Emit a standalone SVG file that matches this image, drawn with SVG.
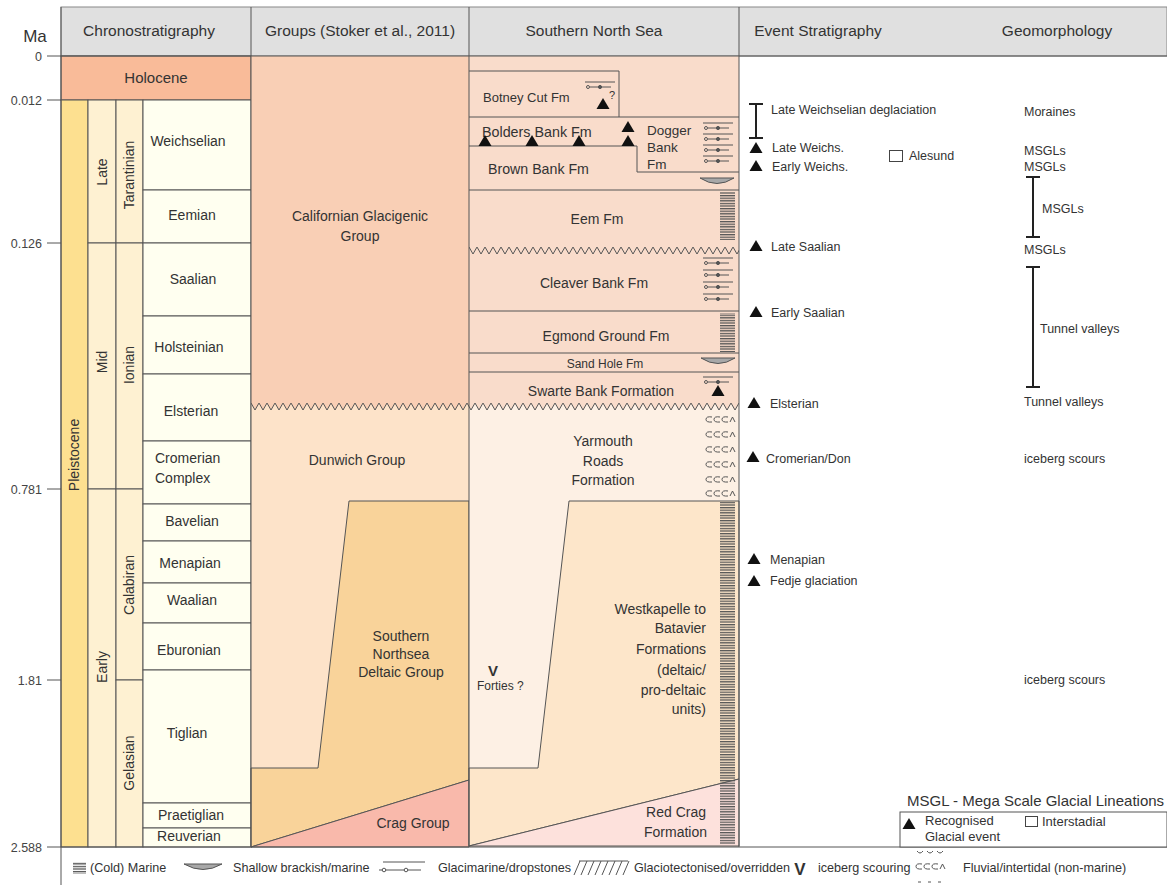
<svg xmlns="http://www.w3.org/2000/svg" width="1167" height="888" viewBox="0 0 1167 888">
<style>
text{font-family:"Liberation Sans",Arial,Helvetica,sans-serif;fill:#333}
.hd{font-size:15.5px;text-anchor:middle}
.st{font-size:14px;text-anchor:middle}
.lb{font-size:14px}
.mid{text-anchor:middle}
.end{text-anchor:end}
.ev{font-size:12.5px}
.lg{font-size:12.6px}
.ma{font-size:12.5px;text-anchor:end;fill:#444}
.ln{stroke:#555;stroke-width:1;fill:none}
.bx{stroke:#555;stroke-width:1}
.tri{fill:#111}
.bar{stroke:#222;stroke-width:2;fill:none}
.sym{stroke:#555;stroke-width:1;fill:none}
</style>
<defs>
  <!-- horizontal ruling used for marine units -->
  <pattern id="hatch" patternUnits="userSpaceOnUse" width="16" height="2.6">
    <rect width="16" height="1.3" fill="#555"/>
  </pattern>
  <!-- unconformity zigzags: upper fill / lower fill / line -->
  <pattern id="zzG" patternUnits="userSpaceOnUse" x="251" y="401" width="8" height="11">
    <rect width="8" height="11" fill="#fde3c9"/>
    <polygon points="0,0 8,0 8,2 4,9 0,2" fill="#f9cfb5"/>
    <polyline points="0,2 4,9 8,2" fill="none" stroke="#555"/>
  </pattern>
  <pattern id="zzS" patternUnits="userSpaceOnUse" x="251" y="401" width="8" height="11">
    <rect width="8" height="11" fill="#fdf0e4"/>
    <polygon points="0,0 8,0 8,2 4,9 0,2" fill="#f9dccb"/>
    <polyline points="0,2 4,9 8,2" fill="none" stroke="#555"/>
  </pattern>
  <pattern id="zzE" patternUnits="userSpaceOnUse" x="469" y="245" width="8" height="11">
    <rect width="8" height="11" fill="#f9dccb"/>
    <polyline points="0,2 4,9 8,2" fill="none" stroke="#555"/>
  </pattern>
  <path id="tri" d="M0,-6 L6.5,5 L-6.5,5 Z" class="tri"/>
  <!-- glacimarine / dropstone sign -->
  <g id="gm" class="sym">
    <line x1="3" y1="0" x2="33" y2="0"/>
    <circle cx="6" cy="5" r="1.5"/>
    <line x1="8" y1="5" x2="29" y2="5"/>
    <circle cx="18" cy="5" r="1.6" fill="#555"/>
  </g>
  <!-- shallow brackish lens -->
  <path id="lens" d="M0,0 H34 Q17,11 0,0 Z" fill="#a8a8a8" stroke="#555"/>
  <!-- fluvial sign: a row of small open curls -->
  <path id="fl" class="sym" d="M6,1 q-6,-1 -6,2.5 q0,3 6,2.5 M14,1 q-6,-1 -6,2.5 q0,3 6,2.5 M22,1 q-6,-1 -6,2.5 q0,3 6,2.5 M24,6 l2.5,-5 l2.5,5"/>
</defs>

<rect width="1167" height="888" fill="#fff"/>

<!-- column headings -->
<g id="header">
  <rect x="61" y="7" width="1106" height="49" fill="#e0e0e0" stroke="#888"/>
  <text x="35" y="42" class="mid" style="font-size:17px">Ma</text>
  <text x="149" y="36" class="hd">Chronostratigraphy</text>
  <text x="360" y="36" class="hd">Groups (Stoker et al., 2011)</text>
  <text x="594" y="36" class="hd">Southern North Sea</text>
  <text x="818" y="36" class="hd">Event Stratigraphy</text>
  <text x="1057" y="36" class="hd">Geomorphology</text>
</g>

<!-- time axis -->
<g id="time-axis">
  <path class="ln" d="M47,56H61 M47,100H61 M47,243H61 M47,489H61 M47,680H61 M47,847H61"/>
  <text x="42" y="61" class="ma">0</text>
  <text x="42" y="105" class="ma">0.012</text>
  <text x="42" y="248" class="ma">0.126</text>
  <text x="42" y="494" class="ma">0.781</text>
  <text x="42" y="685" class="ma">1.81</text>
  <text x="42" y="852" class="ma">2.588</text>
</g>

<!-- chronostratigraphy -->
<g id="chronostratigraphy">
  <rect x="61" y="56" width="190" height="44" fill="#f9bb99" class="bx"/>
  <text x="156" y="83" style="font-size:15px" class="mid">Holocene</text>

  <rect x="61" y="100" width="27" height="747" fill="#fde090" class="bx"/>
  <g fill="#fef1d2" class="bx">
    <rect x="88" y="100" width="28" height="143"/>
    <rect x="88" y="243" width="28" height="246"/>
    <rect x="88" y="489" width="28" height="358"/>
    <rect x="116" y="100" width="27" height="143"/>
    <rect x="116" y="243" width="27" height="246"/>
    <rect x="116" y="489" width="27" height="191"/>
    <rect x="116" y="680" width="27" height="167"/>
  </g>
  <g fill="#fffff0" class="bx">
    <rect x="143" y="100" width="108" height="90"/>
    <rect x="143" y="190" width="108" height="53"/>
    <rect x="143" y="243" width="108" height="73"/>
    <rect x="143" y="316" width="108" height="58"/>
    <rect x="143" y="374" width="108" height="67"/>
    <rect x="143" y="441" width="108" height="63"/>
    <rect x="143" y="504" width="108" height="37"/>
    <rect x="143" y="541" width="108" height="42"/>
    <rect x="143" y="583" width="108" height="40"/>
    <rect x="143" y="623" width="108" height="47"/>
    <rect x="143" y="670" width="108" height="133"/>
    <rect x="143" y="803" width="108" height="25"/>
    <rect x="143" y="828" width="108" height="19"/>
  </g>
  <g class="lb">
    <text transform="translate(79,455) rotate(-90)" class="mid">Pleistocene</text>
    <text transform="translate(107,172) rotate(-90)" class="mid">Late</text>
    <text transform="translate(134,175) rotate(-90)" class="mid">Tarantinian</text>
    <text transform="translate(107,362) rotate(-90)" class="mid">Mid</text>
    <text transform="translate(134,365) rotate(-90)" class="mid">Ionian</text>
    <text transform="translate(107,667) rotate(-90)" class="mid">Early</text>
    <text transform="translate(134,585) rotate(-90)" class="mid">Calabiran</text>
    <text transform="translate(134,763) rotate(-90)" class="mid">Gelasian</text>
  </g>
  <g class="st">
    <text x="188" y="146">Weichselian</text>
    <text x="192" y="220">Eemian</text>
    <text x="193" y="284">Saalian</text>
    <text x="189" y="352">Holsteinian</text>
    <text x="191" y="416">Elsterian</text>
    <text x="155" y="463" style="text-anchor:start">Cromerian</text>
    <text x="155" y="483" style="text-anchor:start">Complex</text>
    <text x="192" y="526">Bavelian</text>
    <text x="190" y="568">Menapian</text>
    <text x="192" y="605">Waalian</text>
    <text x="189" y="655">Eburonian</text>
    <text x="187" y="738">Tiglian</text>
    <text x="191" y="820">Praetiglian</text>
    <text x="189" y="841">Reuverian</text>
  </g>
</g>

<!-- lithostratigraphic groups -->
<g id="groups">
  <rect x="251" y="56" width="218" height="350" fill="#f9cfb5"/>
  <rect x="251" y="406" width="218" height="441" fill="#fde3c9"/>
  <rect x="251" y="401" width="218" height="11" fill="url(#zzG)"/>
  <g id="californian-glacigenic">
    <text x="360" y="221" class="st">Californian Glacigenic</text>
    <text x="360" y="241" class="st">Group</text>
  </g>
  <g id="dunwich">
    <text x="357" y="465" class="st">Dunwich Group</text>
  </g>
  <g id="southern-northsea-deltaic">
    <polygon points="349,501 469,501 469,780 251,847 251,768 318,768" fill="#f9d39a" class="bx"/>
    <text x="401" y="641" class="st">Southern</text>
    <text x="401" y="659" class="st">Northsea</text>
    <text x="401" y="677" class="st">Deltaic Group</text>
  </g>
  <g id="crag">
    <polygon points="251,847 469,780 469,847" fill="#f9b9ab" class="bx"/>
    <text x="413" y="828" class="st">Crag Group</text>
  </g>
</g>

<!-- Southern North Sea formations -->
<g id="southern-north-sea">
  <rect x="469" y="56" width="270" height="350" fill="#f9dccb"/>
  <rect x="469" y="406" width="270" height="441" fill="#fdf0e4"/>
  <rect x="469" y="401" width="270" height="11" fill="url(#zzS)"/>
  <rect x="469" y="245" width="270" height="11" fill="url(#zzE)"/>
  <polygon points="569,501 739,501 739,779 469,846 469,768 538,768" fill="#fde6ca" class="bx"/>
  <polygon points="469,846 739,779 739,846" fill="#fde1dc" class="bx"/>
  <path class="ln" d="M469,71H619V117 M469,117H739 M469,146H637V172H739 M469,190H739 M469,311H739 M469,353H739 M469,372H739"/>

  <g id="botney-cut">
    <text x="483" y="102" style="font-size:13px">Botney Cut Fm</text>
    <use href="#gm" x="582" y="82"/>
    <use href="#tri" x="603" y="104"/>
    <text x="609" y="99" style="font-size:11px">?</text>
  </g>
  <g id="bolders-bank">
    <text x="482" y="137" style="font-size:14.3px">Bolders Bank Fm</text>
    <use href="#tri" x="485" y="141"/>
    <use href="#tri" x="532" y="141"/>
    <use href="#tri" x="579" y="141"/>
    <use href="#tri" x="628" y="141"/>
    <use href="#tri" x="628" y="127"/>
  </g>
  <g id="dogger-bank">
    <text x="647" y="135" style="font-size:13.5px">Dogger</text>
    <text x="647" y="152" style="font-size:13.5px">Bank</text>
    <text x="647" y="169" style="font-size:13.5px">Fm</text>
    <use href="#gm" x="700" y="123"/>
    <use href="#gm" x="700" y="134"/>
    <use href="#gm" x="700" y="145"/>
    <use href="#gm" x="700" y="156"/>
  </g>
  <g id="brown-bank">
    <text x="488" y="174" style="font-size:14.2px">Brown Bank Fm</text>
    <use href="#lens" x="700" y="178"/>
  </g>
  <g id="eem">
    <text x="597" y="224" class="st">Eem Fm</text>
    <rect x="720" y="192" width="15" height="48" fill="url(#hatch)"/>
  </g>
  <g id="cleaver-bank">
    <text x="594" y="288" class="st">Cleaver Bank Fm</text>
    <use href="#gm" x="700" y="258"/>
    <use href="#gm" x="700" y="270"/>
    <use href="#gm" x="700" y="282"/>
    <use href="#gm" x="700" y="294"/>
  </g>
  <g id="egmond-ground">
    <text x="606" y="341" class="st">Egmond Ground Fm</text>
    <rect x="720" y="313" width="15" height="39" fill="url(#hatch)"/>
  </g>
  <g id="sand-hole">
    <text x="605" y="368" style="font-size:12px" class="mid">Sand Hole Fm</text>
    <use href="#lens" x="701" y="358"/>
  </g>
  <g id="swarte-bank">
    <text x="601" y="396" class="st">Swarte Bank Formation</text>
    <use href="#gm" x="700" y="377"/>
    <use href="#tri" x="718" y="391"/>
  </g>
  <g id="yarmouth-roads">
    <text x="603" y="446" class="st">Yarmouth</text>
    <text x="603" y="466" class="st">Roads</text>
    <text x="603" y="485" class="st">Formation</text>
    <use href="#fl" x="706" y="416"/>
    <use href="#fl" x="706" y="431"/>
    <use href="#fl" x="706" y="446"/>
    <use href="#fl" x="706" y="461"/>
    <use href="#fl" x="706" y="476"/>
    <use href="#fl" x="706" y="490"/>
  </g>
  <g id="westkapelle-batavier">
    <g class="lb end">
      <text x="706" y="614">Westkapelle to</text>
      <text x="706" y="633">Batavier</text>
      <text x="706" y="654">Formations</text>
      <text x="706" y="675">(deltaic/</text>
      <text x="706" y="695">pro-deltaic</text>
      <text x="706" y="714">units)</text>
    </g>
    <rect x="720" y="502" width="15" height="343" fill="url(#hatch)"/>
    <text x="493" y="676" class="mid" style="font-size:15px;font-weight:bold">V</text>
    <text x="477" y="690" style="font-size:12px">Forties ?</text>
  </g>
  <g id="red-crag">
    <text x="706" y="817" class="lb end">Red Crag</text>
    <text x="707" y="837" class="lb end">Formation</text>
  </g>
</g>

<!-- frame lines -->
<g id="frame">
  <path class="ln" d="M61,7V885 M251,7V847 M469,7V847 M739,7V847 M61,56H1167 M61,847H1167"/>
</g>

<!-- event stratigraphy and geomorphology -->
<g id="events">
  <path class="bar" d="M756,104V138 M749,104H763 M749,138H763"/>
  <text x="771" y="114" class="ev">Late Weichselian deglaciation</text>
  <use href="#tri" x="756" y="148"/>
  <text x="772" y="152" class="ev">Late Weichs.</text>
  <use href="#tri" x="756" y="166"/>
  <text x="772" y="171" class="ev">Early Weichs.</text>
  <rect x="889.5" y="150.5" width="13" height="11" fill="#fff" stroke="#444"/>
  <text x="909" y="160" class="ev">Alesund</text>
  <use href="#tri" x="756" y="246"/>
  <text x="771" y="251" class="ev">Late Saalian</text>
  <use href="#tri" x="756" y="312"/>
  <text x="771" y="317" class="ev">Early Saalian</text>
  <use href="#tri" x="754" y="403"/>
  <text x="770" y="408" class="ev">Elsterian</text>
  <use href="#tri" x="753" y="457"/>
  <text x="766" y="463" class="ev">Cromerian/Don</text>
  <use href="#tri" x="754" y="559"/>
  <text x="770" y="564" class="ev">Menapian</text>
  <use href="#tri" x="754" y="581"/>
  <text x="770" y="585" class="ev">Fedje glaciation</text>
</g>
<g id="geomorphology">
  <text x="1024" y="116" class="ev">Moraines</text>
  <text x="1024" y="155" class="ev">MSGLs</text>
  <text x="1024" y="171" class="ev">MSGLs</text>
  <path class="bar" d="M1033,177V237 M1026,177H1040 M1026,237H1040"/>
  <text x="1042" y="213" class="ev">MSGLs</text>
  <text x="1024" y="254" class="ev">MSGLs</text>
  <path class="bar" d="M1033,267V387 M1026,267H1040 M1026,387H1040"/>
  <text x="1040" y="333" class="ev">Tunnel valleys</text>
  <text x="1024" y="406" class="ev">Tunnel valleys</text>
  <text x="1024" y="463" class="ev">iceberg scours</text>
  <text x="1024" y="684" class="ev">iceberg scours</text>
</g>

<!-- key to event symbols -->
<g id="event-key">
  <text x="907" y="806" style="font-size:15px">MSGL - Mega Scale Glacial Lineations</text>
  <rect x="900" y="812" width="267" height="35" fill="#fff" class="bx"/>
  <use href="#tri" x="909" y="824"/>
  <text x="925" y="825" style="font-size:13px">Recognised</text>
  <text x="925" y="841" style="font-size:13px">Glacial event</text>
  <rect x="1025.5" y="816.5" width="12" height="10" fill="#fff" stroke="#444"/>
  <text x="1042" y="826" style="font-size:13px">Interstadial</text>
</g>

<!-- key to lithology symbols -->
<g id="legend">
  <rect x="73" y="862" width="13" height="12" fill="url(#hatch)"/>
  <text x="90" y="872" class="lg">(Cold) Marine</text>
  <path d="M184,864 H222 Q203,875 184,864 Z" fill="#a8a8a8" stroke="#555"/>
  <text x="233" y="872" class="lg">Shallow brackish/marine</text>
  <g class="sym">
    <line x1="383" y1="862" x2="425" y2="862"/>
    <line x1="379" y1="870" x2="421" y2="870"/>
    <circle cx="384" cy="870" r="1.8" fill="#fff"/>
    <circle cx="406" cy="870" r="1.8" fill="#fff"/>
  </g>
  <text x="438" y="872" class="lg">Glacimarine/dropstones</text>
  <path class="sym" d="M579,861H628 M574,875L580,861 M581,875L587,861 M588,875L594,861 M595,875L601,861 M602,875L608,861 M609,875L615,861 M616,875L622,861 M623,875L629,861"/>
  <text x="634" y="872" class="lg">Glaciotectonised/overridden</text>
  <text x="800" y="875" class="mid" style="font-size:17px;font-weight:bold">V</text>
  <text x="818" y="872" class="lg">iceberg scouring</text>
  <path class="sym" d="M917,851 q3,4 6,0 M927,851 q3,4 6,0 M937,851 q3,4 6,0 M918,882h3 M928,882h3 M938,882h3"/>
  <use href="#fl" x="916" y="863"/>
  <text x="963" y="872" class="lg">Fluvial/intertidal (non-marine)</text>
</g>
</svg>
